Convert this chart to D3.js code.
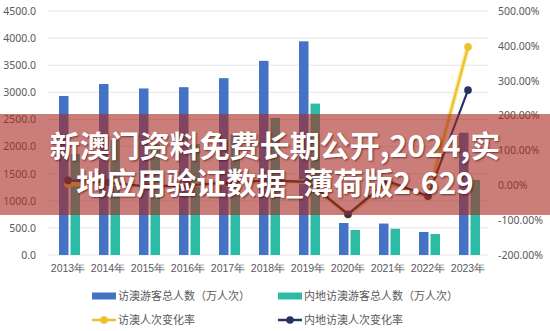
<!DOCTYPE html>
<html><head><meta charset="utf-8">
<script src="https://cdn.jsdelivr.net/npm/d3@7"></script>
<style>
html,body{margin:0;padding:0;background:#fff;}
svg{display:block;font-family:"Noto Sans CJK SC","Noto Sans",sans-serif;}
</style></head>
<body><svg id="c" width="550" height="331"></svg>
<script>
const years = ["2013年","2014年","2015年","2016年","2017年","2018年","2019年","2020年","2021年","2022年","2023年"];
const totalVisitors = [2932.5,3152.6,3071.5,3095.0,3261.1,3580.4,3940.6,589.7,580.0,425.0,2255.0];
const mainlandVisitors = [1863.2,2125.2,2041.0,2045.4,2219.6,2526.1,2792.3,461.0,485.0,387.0,1383.0];
const totalChange = [4,7,-3,1,5,10,10,-85,5,-33,397];
const mainlandChange = [14,8,-4,0,8,14,10,-83,12,-31,273];
const leftTicks = [0,500,1000,1500,2000,2500,3000,3500,4000,4500];
const rightTicks = [-200,-100,0,100,200,300,400,500];
const seriesNames = ["访澳游客总人数（万人次）","内地访澳游客总人数（万人次）","访澳人次变化率","内地访澳人次变化率"];
const bannerLines = ["新澳门资料免费长期公开,2024,实","地应用验证数据_薄荷版2.629"];

const C = {blue:"#4472c4", teal:"#2ebba6", gold:"#efbf2c", navy:"#26355f", grid:"#e4e4e4", text:"#595959"};
const svg = d3.select("#c");
const x = d3.scaleBand().domain(years).range([48,488]).padding(0);
const yL = d3.scaleLinear().domain([0,4500]).range([255,11]);
const yR = d3.scaleLinear().domain([-200,500]).range([255,11]);
const cx = d => x(d) + x.bandwidth()/2;

// gridlines
svg.append("g").selectAll("line").data(leftTicks).join("line")
  .attr("x1",48).attr("x2",488).attr("y1",d=>yL(d)).attr("y2",d=>yL(d))
  .attr("stroke",C.grid).attr("stroke-width",1);

// left axis
const gl = svg.append("g").attr("transform","translate(40,0)")
  .call(d3.axisLeft(yL).tickValues(leftTicks).tickFormat(d3.format(".1f")).tickSize(0).tickPadding(4));
gl.select(".domain").remove();
gl.selectAll("text").attr("fill",C.text).attr("font-size",10.5).attr("font-family","'Noto Sans','Noto Sans CJK SC',sans-serif");

// right axis
const gr = svg.append("g").attr("transform","translate(494,0)")
  .call(d3.axisRight(yR).tickValues(rightTicks).tickFormat(d=>d.toFixed(2)+"%").tickSize(0).tickPadding(4));
gr.select(".domain").remove();
gr.selectAll("text").attr("fill",C.text).attr("font-size",10.5).attr("font-family","'Noto Sans','Noto Sans CJK SC',sans-serif");

// x axis
const gx = svg.append("g").attr("transform","translate(0,263)")
  .call(d3.axisBottom(x).tickSize(0).tickPadding(2));
gx.select(".domain").remove();
gx.selectAll("text").attr("fill",C.text).attr("font-size",10.5);

// bars
svg.append("g").selectAll("rect").data(years).join("rect")
  .attr("x",d=>cx(d)-9).attr("width",9.5)
  .attr("y",(d,i)=>yL(totalVisitors[i])).attr("height",(d,i)=>yL(0)-yL(totalVisitors[i]))
  .attr("fill",C.blue);
svg.append("g").selectAll("rect").data(years).join("rect")
  .attr("x",d=>cx(d)+2.5).attr("width",9.5)
  .attr("y",(d,i)=>yL(mainlandVisitors[i])).attr("height",(d,i)=>yL(0)-yL(mainlandVisitors[i]))
  .attr("fill",C.teal);

// lines
const line = d3.line().x((d,i)=>cx(years[i])).y(d=>yR(d));
svg.append("path").attr("d",line(totalChange)).attr("fill","none").attr("stroke","#f7e58c").attr("stroke-width",5).attr("stroke-opacity",0.7);
svg.append("path").attr("d",line(totalChange)).attr("fill","none").attr("stroke",C.gold).attr("stroke-width",2.2);
svg.append("g").selectAll("circle").data(totalChange).join("circle")
  .attr("cx",(d,i)=>cx(years[i])).attr("cy",d=>yR(d)).attr("r",3.8).attr("fill",C.gold);
svg.append("path").attr("d",line(mainlandChange)).attr("fill","none").attr("stroke",C.navy).attr("stroke-width",2.2);
svg.append("g").selectAll("circle").data(mainlandChange).join("circle")
  .attr("cx",(d,i)=>cx(years[i])).attr("cy",d=>yR(d)).attr("r",3.8).attr("fill",C.navy);

// legend
const lg = svg.append("g").attr("font-size",11).attr("fill",C.text);
const legendItems = [
  {name:seriesNames[0], type:"bar", color:C.blue, x:92, y:296},
  {name:seriesNames[1], type:"bar", color:C.teal, x:278, y:296},
  {name:seriesNames[2], type:"line", color:C.gold, x:92, y:320},
  {name:seriesNames[3], type:"line", color:C.navy, x:278, y:320}
];
legendItems.forEach(it=>{
  if(it.type==="bar"){
    lg.append("rect").attr("x",it.x).attr("y",it.y-3.5).attr("width",24).attr("height",7).attr("fill",it.color);
  } else {
    lg.append("line").attr("x1",it.x).attr("x2",it.x+24).attr("y1",it.y).attr("y2",it.y).attr("stroke",it.color).attr("stroke-width",2.5);
    lg.append("circle").attr("cx",it.x+12).attr("cy",it.y).attr("r",3.8).attr("fill",it.color);
  }
  lg.append("text").attr("x",it.x+26).attr("y",it.y).attr("dy","0.35em").attr("fill",C.text).text(it.name);
});

// banner overlay
svg.append("rect").attr("x",0).attr("y",114).attr("width",550).attr("height",101)
  .attr("fill","rgb(168,40,32)").attr("fill-opacity",0.6);
svg.append("g").selectAll("text").data(bannerLines).join("text")
  .attr("x",275).attr("y",(d,i)=>146+i*37).attr("dy","0.35em")
  .attr("text-anchor","middle").attr("font-size",30).attr("font-weight","bold")
  .attr("font-family","'Noto Sans CJK SC',sans-serif")
  .attr("fill","#fff").style("text-shadow","1px 1px 2px rgba(60,0,0,0.6)")
  .text(d=>d);
</script></body></html>
